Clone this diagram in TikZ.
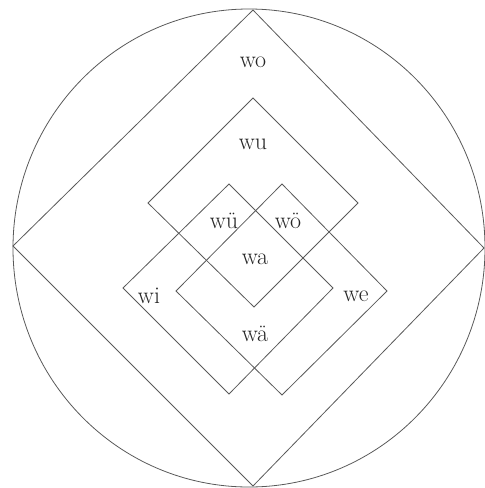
\documentclass[tikz,border=0pt]{standalone}
\begin{document}
\begin{tikzpicture}[x=1pt,y=-1pt,
  ln/.style={draw=black!65,line width=0.8pt,line join=miter},
  lbl/.style={font=\fontsize{24}{28}\selectfont,text=black!85,inner sep=0pt}]
\useasboundingbox (0,0) rectangle (485,488);
% outer circle
\draw[ln] (249,248) ellipse [x radius=236, y radius=239];
% outer diamond
\coordinate (ot) at (253,10);
\coordinate (or) at (484,248);
\coordinate (ob) at (253,486);
\coordinate (ol) at (13,246);
\draw[ln] (ot) -- (or) -- (ob) -- (ol) -- cycle;
% wu diamond
\coordinate (ut) at (253,98);
\coordinate (ur) at (358,203);
\coordinate (ub) at (254,307);
\coordinate (ul) at (148,203);
\draw[ln] (ut) -- (ur) -- (ub) -- (ul) -- cycle;
% wi diamond
\coordinate (it) at (229,184);
\coordinate (ir) at (333,288);
\coordinate (ib) at (229,394);
\coordinate (il) at (123,288);
\draw[ln] (it) -- (ir) -- (ib) -- (il) -- cycle;
% we diamond
\coordinate (et) at (282,184);
\coordinate (er) at (387,291);
\coordinate (eb) at (282,395);
\coordinate (el) at (176,291);
\draw[ln] (et) -- (er) -- (eb) -- (el) -- cycle;
% labels
\node[lbl] (wo) at (253,62) {wo};
\node[lbl] (wu) at (253,144) {wu};
\node[lbl] (wue) at (224,221) {wü};
\node[lbl] (woe) at (288,221) {wö};
\node[lbl] (wa) at (255,259) {wa};
\node[lbl] (wi) at (149,296) {wi};
\node[lbl] (we) at (356,296) {we};
\node[lbl] (wae) at (255,334) {wä};
\end{tikzpicture}
\end{document}
